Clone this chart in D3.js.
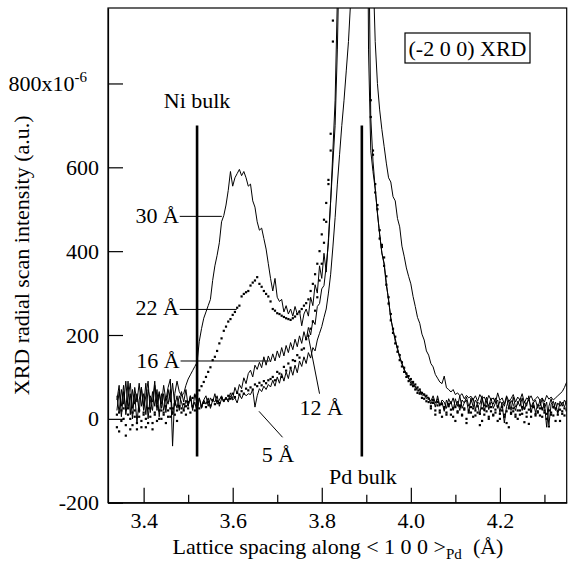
<!DOCTYPE html>
<html>
<head>
<meta charset="utf-8">
<script src="https://cdn.jsdelivr.net/npm/d3@7"></script>
<style>
body { margin: 0; background: #fff; }
svg, svg text { font-family: "Liberation Serif", "Times New Roman", serif; fill: #000; }
</style>
</head>
<body>
<div id="chart"></div>
<script>
// radial scan grid: 3.340 .. 4.350 Å, one point every 0.005 Å (203 points)
const scanStart = 3.34;
const scanStep = 0.005;

// intensities, in 1e-6 a.u. (one row = 0.05 Å)
const s30 = [
  45, 80, 5, 65, 20, 90, 10, 70, 35, 60,
  15, 75, 30, 85, 0, 55, 40, 90, 20, 60,
  35, 80, 45, 75, 95, -65, 60, 90, 65, 55,
  60, 80, 95, 105, 115, 125, 135, 185, 215, 240,
  255, 270, 285, 330, 365, 390, 420, 470, 485, 510,
  545, 590, 555, 575, 585, 595, 580, 590, 575, 555,
  560, 520, 505, 470, 450, 455, 430, 405, 370, 335,
  305, 335, 290, 280, 285, 255, 270, 250, 262, 245,
  268, 250, 258, 222, 250, 262, 245, 290, 270, 320,
  300, 365, 335, 395, 350, 430, 520, 610, 700, 880,
  1150, 1600, 2200, 3000, 3000, 3000, 3000, 3000, 3000, 3000,
  3000, 3000, 3000, 2400, 1600, 1080, 900, 800, 737, 690,
  650, 610, 575, 565, 530, 520, 478, 458, 412, 388,
  360, 340, 322, 292, 268, 242, 228, 202, 188, 162,
  152, 132, 124, 106, 97, 88, 84, 102, 74, 70,
  64, 70, 58, 62, 55, 60, 48, 56, 50, 54,
  46, 55, 42, 58, 48, 52, 40, 56, 45, 50,
  38, 62, 44, 50, 35, 55, 42, 48, 58, 40,
  52, 45, 60, 38, 50, 46, 55, 42, 48, 53,
  44, 50, 40, 56, 47, 52, 45, 50, 55, 60,
  65, 75, 88
];
const s22 = [
  10, -30, 20, 0, -15, 25, -25, 15, 5, -10,
  20, -5, 10, -20, 25, 5, -10, 15, 30, 0,
  20, 10, 30, 5, 25, 15, 35, 20, 30, 25,
  35, 30, 40, 45, 50, 55, 60, 68, 78, 88,
  100, 112, 123, 140, 148, 162, 180, 192, 210, 220,
  232, 238, 248, 255, 265, 270, 292, 298, 302, 305,
  318, 325, 330, 338, 322, 315, 305, 298, 292, 280,
  262, 258, 252, 250, 246, 243, 240, 238, 236, 240,
  244, 250, 256, 262, 270, 276, 285, 305, 322, 345,
  370, 400, 440, 475, 515, 570, 640, 900, 1300, 1900,
  2600, 3000, 3000, 3000, 3000, 3000, 3000, 3000, 3000, 3000,
  3000, 2600, 1800, 1300, 760, 630, 560, 500, 450, 410,
  385, 320, 290, 235, 215, 180, 172, 140, 135, 112,
  108, 90, 95, 78, 82, 62, 70, 50, 58, 42,
  48, 30, 45, 20, 40, 15, 35, 25, 10, 30,
  22, 5, 28, 15, 32, 10, 25, 0, 20, 15,
  25, 8, 30, 12, -5, 22, 18, 5, 28, 10,
  15, 30, 0, 20, 10, -10, 25, 12, 18, 5,
  20, 10, 28, -8, 15, 22, 5, 30, 12, 18,
  8, 25, 15, 0, 20, 10, 28, -5, 18, 22,
  12, 25, 20
];
const s16 = [
  55, 15, 70, 35, 90, 25, 60, 0, 75, 40,
  85, 30, 60, 10, 70, 45, 20, 80, 35, 65,
  25, 60, 15, 70, 40, 85, 30, 55, 20, 65,
  40, 70, 30, 55, 20, 60, 35, 50, 25, 45,
  55, 30, 50, 40, 60, 35, 45, 55, 40, 50,
  45, 62, 48, 75, 60, 82, 72, 98, 84, 108,
  116, 100, 128, 118, 135, 122, 148, 128, 150, 136,
  155, 138, 162, 146, 170, 150, 175, 158, 182, 165,
  190, 172, 198, 180, 208, 188, 218, 200, 235, 225,
  268, 275, 310, 318, 365, 420, 520, 640, 760, 1000,
  1400, 2000, 3000, 3000, 3000, 3000, 3000, 3000, 3000, 3000,
  3000, 2400, 1700, 1200, 720, 615, 550, 490, 440, 395,
  372, 325, 282, 242, 210, 192, 165, 150, 130, 120,
  105, 98, 85, 86, 74, 72, 62, 64, 55, 52,
  50, 42, 55, 38, 48, 30, 45, 40, 25, 48,
  35, 50, 28, 42, 20, 45, 38, 52, 30, 40,
  48, 22, 40, 35, 55, 18, 42, 30, 50, 25,
  38, 45, 15, 40, 30, 52, 25, 44, 35, 20,
  42, 30, 50, 22, 38, 45, 28, 40, 15, 35,
  30, 48, 25, 40, -15, 35, 42, 20, 38, 30,
  40, 28, 45
];
const s12 = [
  -20, 15, -5, 25, -40, 10, 0, -15, 20, -25,
  5, -20, 15, 0, -10, 25, -25, 10, -5, 20,
  0, 15, -10, 20, 5, 25, 10, -5, 30, 15,
  20, 10, 25, 15, 30, 20, 35, 25, 30, 38,
  28, 40, 32, 45, 35, 42, 38, 50, 44, 48,
  55, 48, 60, 52, 62, 58, 66, 60, 72, 68,
  75, 70, 82, 78, 86, 80, 90, 85, 92, 95,
  100, 92, 112, 108, 100, 124, 115, 132, 122, 140,
  138, 152, 146, 165, 168, 190, 198, 215, 232, 258,
  290, 330, 370, 420, 470, 560, 680, 950, 1400, 2000,
  2800, 3000, 3000, 3000, 3000, 3000, 3000, 3000, 3000, 3000,
  3000, 2600, 1800, 1250, 720, 640, 540, 510, 430, 415,
  365, 340, 275, 250, 205, 196, 160, 152, 125, 122,
  100, 102, 82, 88, 70, 75, 60, 62, 48, 55,
  40, 25, 38, 10, 32, 20, 5, 28, 15, 35,
  10, 25, -5, 18, 30, 8, 22, -10, 15, 28,
  5, 20, 15, -15, 25, 10, 30, 0, 18, 8,
  22, -5, 12, 28, 5, 18, -20, 15, 25, 10,
  0, 20, 12, 25, 5, -12, 18, 28, 8, 15,
  25, 5, 20, 12, -18, 15, 8, 25, 10, -5,
  18, 8, 22
];
const s5 = [
  20, 65, 30, 80, 10, 50, 85, 25, 60, -10,
  45, 75, 20, 55, 90, 15, 65, 30, 70, 5,
  60, 20, 50, 35, 70, 10, 45, 25, 55, 40,
  20, 45, 30, 55, 25, 40, 15, 50, 30, 45,
  35, 50, 25, 45, 40, 55, 30, 48, 42, 52,
  40, 55, 45, 50, 38, 58, 48, 62, 55, 60,
  58, 70, 28, 55, 72, 65, 78, 70, 82, 76,
  92, 78, 100, 85, 108, 90, 112, 96, 122, 104,
  128, 110, 138, 125, 148, 132, 158, 145, 170, 162,
  188, 204, 220, 242, 262, 300, 345, 410, 480, 560,
  630, 700, 760, 830, 900, 1000, 1400, 2200, 3000, 3000,
  3000, 3000, 1800, 880, 640, 590, 548, 492, 440, 396,
  368, 318, 286, 238, 214, 185, 170, 146, 134, 116,
  110, 95, 92, 80, 78, 66, 70, 56, 60, 48,
  52, 35, 48, 28, 55, 32, 40, 18, 45, 30,
  42, 20, 48, 30, 55, 25, 38, 45, 15, 50,
  28, 45, 35, 10, 48, 30, 52, 22, 40, 35,
  50, 25, 42, 35, -10, 30, 45, 20, 52, 28,
  35, 48, 20, 42, 30, 55, 15, 38, 45, 25,
  45, 20, 38, -20, 30, 48, 25, 40, 12, 42,
  30, 45, 35
];

const seriesNames = ["30 Å", "22 Å", "16 Å", "12 Å", "5 Å"];
const seriesValues = [s30, s22, s16, s12, s5];
const seriesDotted = [false, true, false, true, false];

const xTicks = [3.4, 3.6, 3.8, 4.0, 4.2];
const xMinorTicks = [3.5, 3.7, 3.9, 4.1, 4.3];
const yTicks = [-200, 0, 200, 400, 600, 800];

const bulkNames = ["Ni bulk", "Pd bulk"];
const bulkSpacing = [3.52, 3.89];
const bulkLow = -90, bulkHigh = 700;

const width = 569, height = 564;
const margin = { top: 8, right: 2.3, bottom: 61.3, left: 108 };
const fontSize = 22;
const serif = '"Liberation Serif", "Times New Roman", serif';

const svg = d3.select("#chart").append("svg")
  .attr("width", width)
  .attr("height", height);

const x = d3.scaleLinear().domain([3.32, 4.35]).range([margin.left, width - margin.right]);
const y = d3.scaleLinear().domain([-200, 980]).range([height - margin.bottom, margin.top]);

svg.append("clipPath").attr("id", "plotclip")
  .append("rect")
  .attr("x", x(3.32)).attr("y", y(980))
  .attr("width", x(4.35) - x(3.32)).attr("height", y(-200) - y(980));

const plot = svg.append("g").attr("clip-path", "url(#plotclip)");

// scan points
const scanX = seriesValues[0].map((v, i) => scanStart + i * scanStep);

const line = d3.line()
  .x((d, i) => x(scanX[i]))
  .y(d => y(d));

seriesValues.forEach((vals, k) => {
  if (seriesDotted[k]) {
    plot.append("g").selectAll("rect")
      .data(vals)
      .enter()
      .append("rect")
      .attr("x", (d, i) => x(scanX[i]) - 1.1)
      .attr("y", d => y(d) - 1.1)
      .attr("width", 2.2)
      .attr("height", 2.2)
      .attr("fill", "#000");
  } else {
    plot.append("path")
      .datum(vals)
      .attr("d", line)
      .attr("fill", "none")
      .attr("stroke", "#000")
      .attr("stroke-width", 1);
  }
});

// bulk lattice markers
bulkSpacing.forEach((b, i) => {
  svg.append("line")
    .attr("x1", x(b)).attr("x2", x(b))
    .attr("y1", y(bulkLow)).attr("y2", y(bulkHigh))
    .attr("stroke", "#000")
    .attr("stroke-width", 2.6);
});
svg.append("text")
  .attr("x", x(bulkSpacing[0]))
  .attr("y", 108)
  .attr("text-anchor", "middle")
  .text(bulkNames[0]);
svg.append("text")
  .attr("x", x(bulkSpacing[1]) + 1)
  .attr("y", 484)
  .attr("text-anchor", "middle")
  .text(bulkNames[1]);

// axes
const gx = svg.append("g")
  .attr("transform", `translate(0,${y(-200)})`)
  .call(d3.axisBottom(x).tickValues(xTicks).tickFormat(d3.format(".1f"))
    .tickSize(-15).tickSizeOuter(0).tickPadding(10));
svg.append("g")
  .attr("transform", `translate(0,${y(-200)})`)
  .call(d3.axisBottom(x).tickValues(xMinorTicks).tickFormat("")
    .tickSize(-8).tickSizeOuter(0))
  .call(g => g.select(".domain").remove());

const gy = svg.append("g")
  .attr("transform", `translate(${x(3.32)},0)`)
  .call(d3.axisLeft(y).tickValues(yTicks).tickFormat(d => d === 800 ? "800x10" : d)
    .tickSize(-15).tickSizeOuter(0).tickPadding(9));

[gx, gy].forEach(g => g.attr("font-family", null).attr("font-size", null));
svg.selectAll("g line, g path.domain").attr("stroke", "#000").attr("stroke-width", 1.2);

// superscript exponent on the top label
gy.selectAll(".tick text")
  .filter(d => d === 800)
  .attr("x", -21)
  .append("tspan")
  .attr("dy", "-0.6em")
  .style("font-size", "15px")
  .text("-6");

// frame
svg.append("rect")
  .attr("x", x(3.32)).attr("y", y(980))
  .attr("width", x(4.35) - x(3.32)).attr("height", y(-200) - y(980))
  .attr("fill", "none")
  .attr("stroke", "#000")
  .attr("stroke-width", 1.2);

// legend box
const legend = svg.append("g");
legend.append("rect")
  .attr("x", 405).attr("y", 33)
  .attr("width", 125).attr("height", 30)
  .attr("fill", "#fff").attr("stroke", "#000").attr("stroke-width", 1.2);
legend.append("text")
  .attr("x", 467.5).attr("y", 56)
  .attr("text-anchor", "middle")
  .text("(-2 0 0) XRD");

// thickness labels with leaders (label point, leader start, leader end in data units)
const notes = [
  { name: seriesNames[0], tx: 3.479, ty: 468, anchor: "end", from: [3.481, 483], to: [3.5756, 483] },
  { name: seriesNames[1], tx: 3.479, ty: 247, anchor: "end", from: [3.481, 261], to: [3.609, 261] },
  { name: seriesNames[2], tx: 3.481, ty: 122, anchor: "end", from: [3.483, 138], to: [3.683, 138] },
  { name: seriesNames[3], tx: 3.750, ty: 9, anchor: "start", from: [3.795, 60], to: [3.768, 207] },
  { name: seriesNames[4], tx: 3.665, ty: -103, anchor: "start", from: [3.712, -44], to: [3.659, 18] }
];
notes.forEach(n => {
  svg.append("line")
    .attr("x1", x(n.from[0])).attr("y1", y(n.from[1]))
    .attr("x2", x(n.to[0])).attr("y2", y(n.to[1]))
    .attr("stroke", "#000").attr("stroke-width", 1);
  svg.append("text")
    .attr("x", x(n.tx)).attr("y", y(n.ty))
    .attr("text-anchor", n.anchor)
    .text(n.name);
});

// axis titles
svg.append("text")
  .attr("transform", `translate(29,${(y(980) + y(-200)) / 2}) rotate(-90)`)
  .attr("text-anchor", "middle")
  .text("XRD radial scan intensity (a.u.)");

const xt = svg.append("text")
  .attr("x", 338).attr("y", 554)
  .attr("text-anchor", "middle");
xt.append("tspan").text("Lattice spacing along < 1 0 0 >");
xt.append("tspan").attr("dy", 5).style("font-size", "15px").text("Pd");
xt.append("tspan").attr("dy", -5).text("\u00a0 (Å)");

// one serif face for every text
svg.selectAll("text")
  .style("font-family", serif)
  .style("font-size", fontSize + "px")
  .attr("fill", "#000");
</script>
</body>
</html>
